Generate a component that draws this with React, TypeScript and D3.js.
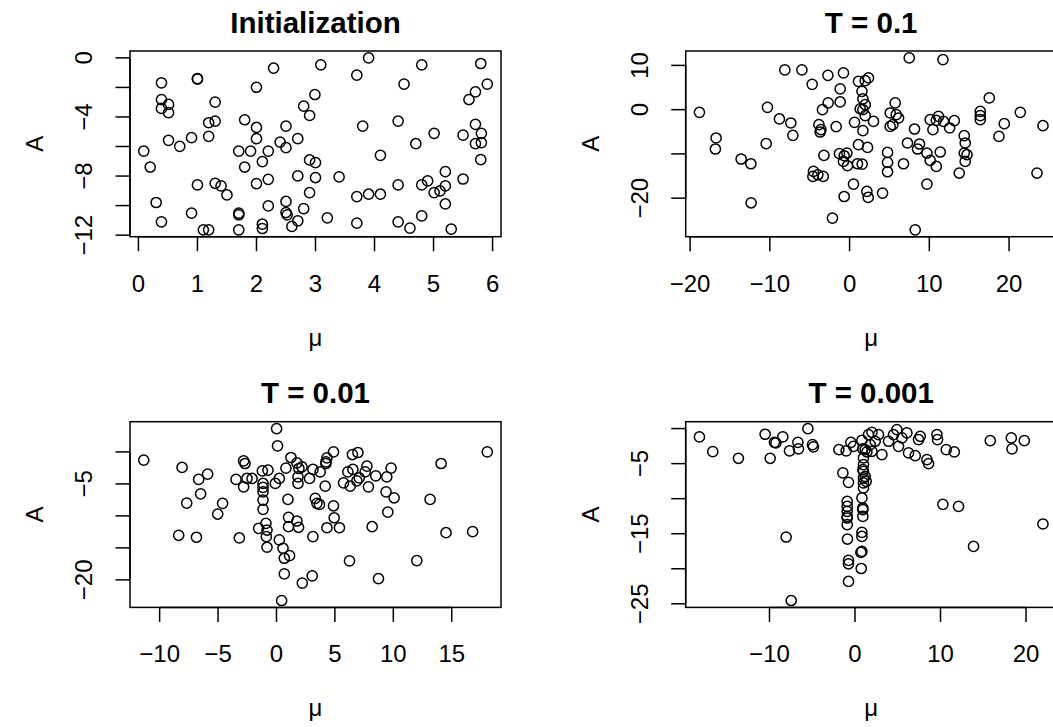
import React from 'react';
import * as d3 from 'd3';

// ---------- Data ----------
const initMu = [0.39,1.00,1.00,2.29,3.09,2.00,2.99,0.39,0.51,0.39,0.51,1.30,2.80,2.90,1.19,1.30,1.80,2.00,2.50,1.19,0.90,0.51,0.70,2.00,2.40,2.50,2.70,0.09,1.70,1.90,2.20,2.10,0.20,1.80,2.90,3.00,3.00,2.70,1.00,1.30,1.40,1.50,2.00,2.20,2.90,0.30,0.90,1.70,1.70,2.20,2.50,2.50,2.52,2.80,2.70,2.60,0.39,1.10,1.19,1.70,2.10,2.10,
  3.90,3.70,4.80,5.80,4.50,5.91,5.71,5.60,3.80,4.40,5.01,4.70,5.50,5.71,5.81,5.71,5.81,5.80,4.10,3.40,5.20,5.50,4.40,4.80,4.90,5.01,5.11,5.20,5.20,3.70,3.90,4.10,3.20,3.70,4.40,4.60,4.80,5.30];
const initA = [-1.69,-1.40,-1.43,-0.70,-0.47,-1.99,-2.48,-2.82,-3.15,-3.42,-3.71,-3.00,-3.27,-3.90,-4.39,-4.28,-4.19,-4.71,-4.62,-5.31,-5.40,-5.58,-5.99,-5.47,-5.70,-6.08,-5.47,-6.31,-6.31,-6.31,-6.31,-7.02,-7.39,-7.39,-6.91,-7.09,-8.10,-7.99,-8.60,-8.49,-8.67,-9.28,-8.51,-8.22,-9.12,-9.79,-10.51,-10.51,-10.62,-10.02,-9.72,-10.47,-10.63,-10.20,-11.03,-11.41,-11.10,-11.64,-11.64,-11.64,-11.26,-11.55,
  0.00,-1.17,-0.47,-0.38,-1.78,-1.78,-2.30,-2.82,-4.62,-4.28,-5.11,-5.81,-5.23,-4.50,-5.11,-5.81,-5.74,-6.89,-6.60,-8.06,-7.70,-8.20,-8.60,-8.60,-8.33,-9.12,-9.01,-8.67,-9.89,-9.39,-9.23,-9.23,-10.83,-11.19,-11.10,-11.53,-10.70,-11.59];

const t1Mu = [-18.83,-16.74,-16.83,-13.60,-12.38,-12.35,-10.30,-10.46,-8.12,-5.98,-8.80,-7.37,-7.11,-4.69,-2.72,-0.77,-1.18,-2.69,-3.40,-1.18,-3.85,-3.60,-3.69,-1.68,-3.22,-4.53,-4.60,-3.98,-3.31,-1.27,-0.68,-0.34,-0.77,-0.26,0.99,1.58,0.49,-0.68,-2.15,2.17,2.33,0.62,1.67,1.11,2.25,1.11,1.96,1.55,1.67,1.33,1.96,2.37,
  7.48,11.71,1.96,5.72,5.09,5.85,6.14,3.00,1.67,5.09,5.42,8.14,10.11,11.15,10.87,11.78,10.45,12.55,13.13,16.39,16.39,16.39,17.52,19.40,18.73,21.41,24.25,23.50,7.26,8.77,8.52,4.76,4.76,4.76,6.76,9.70,10.11,10.87,11.37,14.38,14.50,14.38,14.72,14.50,13.75,9.70,4.13,8.23];
const t1A = [-0.61,-6.40,-8.89,-11.15,-12.22,-21.04,0.52,-7.69,8.98,8.98,-2.10,-3.01,-5.81,5.72,7.76,8.30,4.68,1.52,0.00,1.74,-3.39,-4.52,-5.05,-3.85,-10.34,-13.96,-15.09,-14.71,-15.09,-9.95,-10.41,-9.80,-11.70,-12.67,-12.22,-12.29,-16.81,-19.62,-24.50,-18.48,-19.84,-2.87,-4.75,-7.92,-8.53,6.40,6.56,4.14,2.42,0.16,-1.36,7.17,
  11.70,11.31,1.13,1.52,-0.75,-1.13,-1.88,-2.65,0.00,-3.78,-3.39,-4.37,-2.26,-1.52,-2.42,-2.65,-4.52,-4.14,-2.49,-0.38,-1.36,-2.26,2.65,-3.17,-6.04,-0.61,-3.62,-14.32,-7.53,-7.76,-8.89,-9.66,-11.92,-14.03,-12.22,-9.80,-11.47,-12.82,-9.57,-5.88,-7.53,-9.80,-10.18,-11.70,-14.32,-16.81,-18.85,-27.15];

const t01Mu = [0.01,0.09,-11.36,-8.08,-6.66,-5.89,-6.49,-7.68,-4.61,-5.03,-8.37,-6.85,-3.18,-2.81,-2.69,-3.46,-2.81,-2.52,-2.09,-1.21,-0.73,-1.15,-1.15,-1.15,-1.15,-1.15,-0.90,-1.53,-0.81,-0.87,-0.81,-0.10,0.24,0.81,1.24,1.75,2.18,1.92,1.84,1.84,2.83,3.12,0.98,1.03,1.75,1.03,1.89,0.24,0.56,0.67,1.12,0.67,2.21,3.06,0.44,3.12,3.32,3.46,
  18.04,14.09,13.15,14.51,16.79,12.01,8.73,6.25,8.19,9.53,9.38,10.07,9.81,9.44,8.50,7.87,7.74,7.59,6.50,6.97,6.11,6.54,5.74,6.31,6.88,7.08,4.88,4.32,4.23,4.23,3.74,4.17,3.68,4.88,4.94,4.32,5.39];
const t01A = [3.65,0.94,-1.29,-2.43,-4.30,-3.48,-6.55,-8.00,-8.04,-9.71,-13.03,-13.34,-13.45,-1.40,-1.81,-4.30,-5.46,-4.15,-4.15,-2.96,-2.85,-4.93,-5.55,-6.24,-7.53,-8.98,-11.16,-11.94,-12.21,-13.25,-14.90,-4.93,-4.15,-2.54,-0.87,-1.71,-2.34,-2.59,-3.90,-4.93,-4.15,-2.74,-7.42,-10.23,-10.80,-11.69,-11.78,-13.76,-15.06,-16.62,-16.21,-19.06,-20.51,-19.38,-23.23,-13.25,-7.26,-8.04,
  0.00,-1.81,-7.42,-12.63,-12.47,-16.99,-19.80,-17.04,-11.69,-9.40,-6.24,-7.17,-2.54,-3.90,-3.74,-5.46,-2.23,-3.12,-0.41,-0.09,-3.12,-2.74,-4.83,-5.35,-4.52,-4.05,0.00,-0.94,-1.56,-1.81,-3.12,-5.35,-8.20,-8.42,-10.29,-11.85,-11.85];

const t001Mu = [-18.19,-16.63,-13.63,-10.51,-9.92,-9.42,-9.25,-8.44,-7.66,-6.68,-6.61,-5.51,-4.97,-4.86,-8.05,-7.46,-1.88,-1.03,-0.48,-0.18,0.81,0.92,1.39,1.58,-1.42,-0.76,0.99,0.99,0.99,0.99,0.99,0.99,-0.91,-0.91,-0.91,-0.91,-0.91,-0.91,0.81,0.92,0.92,-0.88,0.81,0.81,0.69,-0.76,-0.76,0.73,-0.76,
  1.98,2.75,2.36,1.78,1.19,1.98,3.15,3.92,4.50,4.90,5.49,6.07,5.09,6.26,7.04,7.43,7.63,8.41,8.60,9.58,9.65,10.67,11.61,15.82,18.28,18.36,19.80,10.28,12.11,21.98,13.86,1.19,1.31,0.92,0.81,0.92];
const t001A = [-1.19,-3.29,-4.24,-0.81,-4.24,-1.96,-2.04,-1.19,-3.19,-1.96,-2.90,0.00,-2.29,-2.61,-15.47,-24.53,-3.00,-3.19,-1.96,-2.53,-1.67,-2.90,-3.33,-0.86,-6.33,-7.67,-4.19,-5.14,-6.10,-7.04,-7.76,-8.47,-10.39,-11.10,-11.81,-12.53,-12.76,-13.71,-9.90,-11.33,-12.53,-15.76,-14.81,-15.39,-17.67,-18.81,-19.29,-19.96,-21.81,
  -0.53,-0.86,-1.81,-2.29,-3.00,-3.24,-3.71,-1.81,-0.86,-0.14,-1.33,-0.61,-2.53,-3.47,-3.86,-1.57,-1.10,-4.43,-5.00,-0.86,-1.57,-3.00,-3.33,-1.71,-1.33,-2.90,-1.71,-10.81,-11.10,-13.61,-16.81,-6.81,-7.53,-11.57,-17.53,-5.86];

const titles = ['Initialization', 'T = 0.1', 'T = 0.01', 'T = 0.001'];
const xTicks1 = [0, 1, 2, 3, 4, 5, 6];
const yTicks1 = [0, -2, -4, -6, -8, -10, -12];
const yLabels1 = [0, -4, -8, -12];
const xTicks2 = [-20, -10, 0, 10, 20];
const yTicks2 = [10, 0, -10, -20];
const yLabels2 = [10, 0, -20];
const xTicks3 = [-10, -5, 0, 5, 10, 15];
const yTicks3 = [0, -5, -10, -15, -20];
const yLabels3 = [-5, -20];
const xTicks4 = [-10, 0, 10, 20];
const yTicks4 = [0, -5, -10, -15, -20, -25];
const yLabels4 = [-5, -15, -25];

// ---------- Layout ----------
const W = 371;
const H = 185.7;
const LEFTS = [130, 685.7];
const TOPS = [51, 421.7];
const FONT = "'Liberation Sans', Arial, Helvetica, sans-serif";

const fmt = (v: number) => (v < 0 ? '\u2212' + Math.abs(v) : String(v));

function padExtent(vals: number[]): [number, number] {
  const [lo, hi] = d3.extent(vals) as [number, number];
  const d = (hi - lo) * 0.04;
  return [lo - d, hi + d];
}

type PanelProps = {
  title: string; mu: number[]; a: number[];
  xTicks: number[]; yTicks: number[]; yLabels: number[];
  left: number; top: number;
};

function Panel({ title, mu, a, xTicks, yTicks, yLabels, left, top }: PanelProps) {
  const x = d3.scaleLinear().domain(padExtent(mu)).range([left, left + W]);
  const y = d3.scaleLinear().domain(padExtent(a)).range([top + H, top]);
  const bottom = top + H;
  const tick = 14.5;
  const sw = 1.5;
  return (
    <g>
      <text x={left + W / 2} y={top - 18.5} textAnchor="middle" fontFamily={FONT}
        fontWeight="bold" fontSize={29.5}>{title}</text>
      {mu.map((m, i) => (
        <circle key={i} cx={x(m)} cy={y(a[i])} r={5.1} fill="none" stroke="#000" strokeWidth={1.5} />
      ))}
      <rect x={left} y={top} width={W} height={H} fill="none" stroke="#000" strokeWidth={sw} />
      <line x1={x(xTicks[0])} x2={x(xTicks[xTicks.length - 1])} y1={bottom} y2={bottom} stroke="#000" strokeWidth={sw} />
      {xTicks.map((t) => (
        <g key={'xt' + t}>
          <line x1={x(t)} x2={x(t)} y1={bottom} y2={bottom + tick} stroke="#000" strokeWidth={sw} />
          <text x={x(t)} y={bottom + 55} textAnchor="middle" fontFamily={FONT} fontSize={24}>{fmt(t)}</text>
        </g>
      ))}
      <line x1={left} x2={left} y1={y(yTicks[0])} y2={y(yTicks[yTicks.length - 1])} stroke="#000" strokeWidth={sw} />
      {yTicks.map((t) => (
        <line key={'yt' + t} x1={left - tick} x2={left} y1={y(t)} y2={y(t)} stroke="#000" strokeWidth={sw} />
      ))}
      {yLabels.map((t) => (
        <text key={'yl' + t} transform={`translate(${left - 38},${y(t)}) rotate(-90)`} textAnchor="middle"
          fontFamily={FONT} fontSize={24}>{fmt(t)}</text>
      ))}
      <text x={left + W / 2} y={bottom + 109} textAnchor="middle" fontFamily={FONT} fontSize={24}>μ</text>
      <text transform={`translate(${left - 87},${top + H / 2}) rotate(-90)`} textAnchor="middle"
        fontFamily={FONT} fontSize={24}>A</text>
    </g>
  );
}

export default function App() {
  const panels = [
    { mu: initMu, a: initA, xTicks: xTicks1, yTicks: yTicks1, yLabels: yLabels1 },
    { mu: t1Mu, a: t1A, xTicks: xTicks2, yTicks: yTicks2, yLabels: yLabels2 },
    { mu: t01Mu, a: t01A, xTicks: xTicks3, yTicks: yTicks3, yLabels: yLabels3 },
    { mu: t001Mu, a: t001A, xTicks: xTicks4, yTicks: yTicks4, yLabels: yLabels4 },
  ];
  return (
    <svg width={1053} height={727} style={{ position: 'absolute', left: 0, top: 0, background: '#fff' }}>
      <rect x={0} y={0} width={1053} height={727} fill="#fff" />
      {panels.map((p, i) => (
        <Panel key={i} title={titles[i]} {...p} left={LEFTS[i % 2]} top={TOPS[Math.floor(i / 2)]} />
      ))}
    </svg>
  );
}
